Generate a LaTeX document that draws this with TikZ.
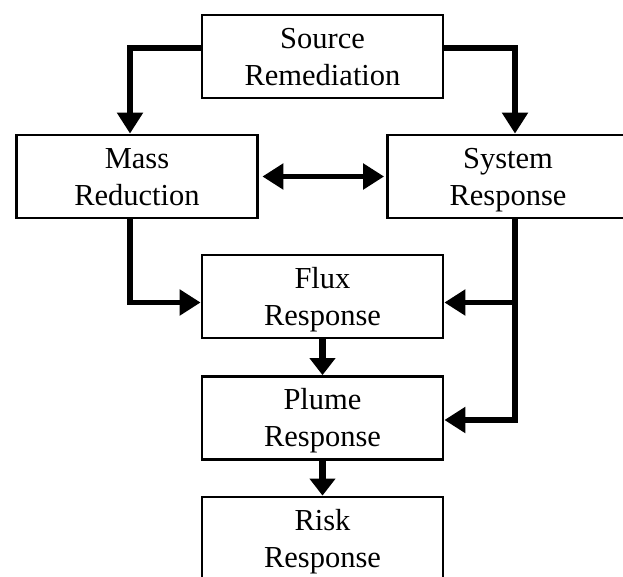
\documentclass[tikz,border=0pt]{standalone}
\usepackage{fontspec}
\setmainfont{Liberation Serif}
\usetikzlibrary{arrows.meta,calc}
% uniform line height so every two-line label sits at the same baselines
\newcommand\linestrut{\rule[-8.5pt]{0pt}{37pt}}
\newcommand\twolines[2]{#1\linestrut\\#2\linestrut}
\begin{document}
\begin{tikzpicture}[x=1pt,y=-1pt,
  box/.style={draw, line width=2.8pt, minimum width=241pt, minimum height=83pt,
    inner sep=0pt, align=center, font=\fontsize{30.5}{37}\selectfont},
  link/.style={line width=5.5pt, -{Triangle[length=21pt,width=25pt]}},
  twoway/.style={line width=5.5pt, {Triangle[length=21pt,width=25pt]}-{Triangle[length=21pt,width=25pt]}},
  down/.style={line width=6.5pt, -{Triangle[length=17pt,width=25pt]}}]
\useasboundingbox (0,0) rectangle (623,576);
\clip (0,0) rectangle (623,576);

% boxes
\node[box] (src)   at (322.5,56.5)  {\twolines{Source}{Remediation}};
\node[box] (mass)  at (137,176.5)   {\twolines{Mass}{Reduction}};
\node[box] (sys)   at (508,176.5)   {\twolines{System}{Response}};
\node[box] (flux)  at (322.5,296.5) {\twolines{Flux}{Response}};
\node[box] (plume) at (322.5,418)   {\twolines{Plume}{Response}};
\node[box] (risk)  at (322.5,538.5) {\twolines{Risk}{Response}};

% attachment points
\coordinate (srcL)   at ([yshift=8.5pt]src.west);
\coordinate (srcR)   at ([yshift=8.5pt]src.east);
\coordinate (massIn) at ([xshift=-7pt]mass.north);
\coordinate (sysIn)  at ([xshift=7pt]sys.north);
\coordinate (massOut) at ([xshift=-7pt]mass.south);
\coordinate (sysOut) at ([xshift=7pt]sys.south);
\coordinate (fluxL)  at ([yshift=-6pt]flux.west);
\coordinate (fluxR)  at ([yshift=-6pt]flux.east);
\coordinate (plumeR) at ([yshift=-2pt]plume.east);
\coordinate (junc)   at (sysOut |- fluxR);

% connectors
\draw[link] (srcL) -| (massIn);
\draw[link] (srcR) -| (sysIn);
\draw[twoway] ([xshift=3.5pt]mass.east) -- ([xshift=-2pt]sys.west);
\draw[link] (massOut) |- (fluxL);
\draw[link] (sysOut) |- (plumeR);
\draw[link] (junc) -- (fluxR);
\draw[down] (flux.south) -- (plume.north);
\draw[down] (plume.south) -- (risk.north);
\end{tikzpicture}
\end{document}
